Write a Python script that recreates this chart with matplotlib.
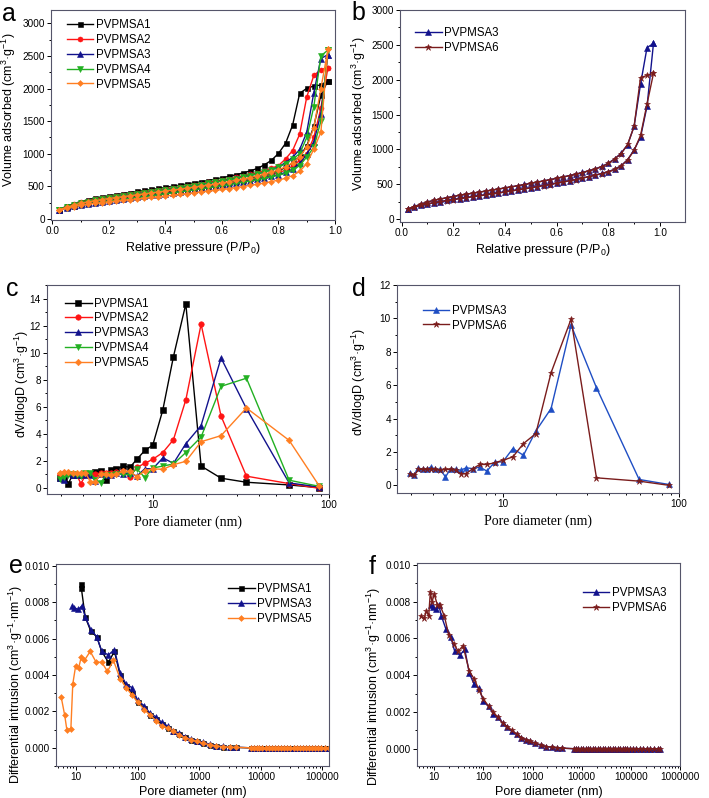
import matplotlib
matplotlib.use('Agg')
import matplotlib.pyplot as plt
from matplotlib.ticker import MultipleLocator, LogLocator, FixedLocator, FuncFormatter, NullFormatter

plt.rcParams['font.family'] = ['Liberation Sans', 'DejaVu Sans']
plt.rcParams['mathtext.fontset'] = 'custom'
plt.rcParams['mathtext.rm'] = 'Liberation Sans'
plt.rcParams['mathtext.it'] = 'Liberation Sans:italic'
plt.rcParams['mathtext.bf'] = 'Liberation Sans:bold'

# ---------------- data: panels a, b (isotherms) ----------------
P = [0.025, 0.05, 0.075, 0.1, 0.125, 0.15, 0.175, 0.2, 0.225, 0.25,
     0.275, 0.3, 0.325, 0.35, 0.375, 0.4, 0.425, 0.45, 0.475, 0.5,
     0.525, 0.55, 0.575, 0.6, 0.625, 0.65, 0.675, 0.7, 0.725, 0.75,
     0.775, 0.8, 0.825, 0.85, 0.875, 0.9, 0.925, 0.95, 0.975]

A1_ads = [145, 180, 207, 229, 247, 264, 280, 295, 310, 325, 340, 354, 368, 382, 397, 412, 427, 442, 458, 474,
          490, 507, 524, 542, 561, 581, 602, 624, 648, 674, 703, 738, 790, 860, 960, 1120, 1420, 1900, 2120]
A1_des = [150, 195, 235, 268, 294, 316, 336, 355, 373, 390, 406, 422, 438, 454, 470, 486, 502, 519, 536, 553,
          571, 590, 610, 632, 655, 680, 707, 737, 775, 830, 900, 1005, 1160, 1440, 1926, 2003, 2039, 2054, 2120]
A2_ads = [142, 176, 202, 223, 241, 257, 272, 287, 301, 315, 329, 343, 357, 371, 385, 399, 413, 428, 443, 458,
          474, 490, 507, 524, 542, 561, 581, 602, 625, 650, 678, 710, 750, 810, 900, 1000, 1250, 1700, 2320]
A2_des = [145, 188, 226, 258, 283, 304, 323, 341, 358, 374, 389, 404, 419, 434, 449, 464, 479, 495, 511, 527,
          544, 561, 579, 598, 618, 639, 662, 686, 712, 742, 777, 820, 920, 1050, 1300, 1870, 2200, 2290, 2320]
A3_ads = [140, 172, 197, 218, 235, 251, 266, 280, 294, 308, 321, 335, 348, 361, 375, 390, 405, 420, 435, 450,
          466, 482, 498, 515, 533, 551, 570, 590, 610, 632, 655, 680, 715, 766, 853, 990, 1177, 1617, 2520]
A3_des = [140, 180, 215, 245, 268, 288, 306, 325, 341, 356, 371, 386, 401, 416, 431, 447, 463, 479, 496, 513,
          530, 548, 566, 585, 604, 624, 645, 668, 693, 720, 755, 800, 865, 945, 1066, 1330, 1937, 2460, 2520]
A4_ads = [140, 171, 195, 216, 233, 249, 263, 277, 291, 305, 318, 331, 344, 357, 371, 385, 400, 415, 430, 445,
          461, 477, 493, 510, 527, 545, 564, 583, 603, 624, 646, 670, 700, 745, 820, 950, 1100, 1500, 2590]
A4_des = [141, 179, 213, 243, 266, 286, 304, 322, 338, 353, 368, 383, 398, 413, 428, 444, 460, 476, 493, 510,
          527, 545, 563, 582, 601, 621, 642, 665, 690, 717, 750, 790, 850, 920, 1000, 1250, 1720, 2500, 2590]
A5_ads = [138, 168, 191, 210, 226, 240, 253, 265, 277, 288, 299, 310, 321, 332, 343, 354, 365, 377, 389, 401,
          413, 426, 439, 453, 467, 482, 498, 515, 533, 552, 573, 597, 625, 665, 730, 850, 1070, 1330, 2600]
A5_des = [140, 178, 212, 240, 262, 281, 298, 314, 329, 343, 357, 371, 385, 399, 413, 427, 441, 456, 471, 486,
          502, 518, 535, 553, 572, 592, 613, 636, 661, 688, 718, 752, 800, 860, 950, 1100, 1400, 2000, 2600]
A6_ads = [138, 170, 195, 216, 233, 249, 264, 278, 292, 306, 319, 332, 345, 358, 372, 387, 402, 417, 432, 447,
          463, 479, 495, 512, 530, 548, 567, 587, 607, 629, 652, 677, 712, 762, 850, 985, 1200, 1650, 2090]
A6_des = [138, 178, 213, 243, 266, 286, 304, 323, 339, 354, 369, 384, 399, 414, 429, 445, 461, 477, 494, 511,
          528, 546, 564, 583, 602, 622, 643, 666, 691, 718, 752, 797, 862, 940, 1070, 1330, 2030, 2060, 2090]

# ---------------- data: panels c, d (BJH pore size) ----------------
D_bjh = [2.97, 3.15, 3.32, 3.51, 3.71, 3.91, 4.14, 4.42, 4.73, 5.06, 5.40, 5.76, 6.20,
         6.76, 7.41, 8.12, 9.01, 10.0, 11.4, 13.1, 15.4, 18.8, 24.4, 34.0, 59.4, 87.8]
B1 = [0.75, 0.65, 0.3, 0.95, 0.95, 0.95, 1.0, 1.0, 1.15, 1.2, 0.6, 1.3, 1.35, 1.6, 1.5, 2.1, 2.75,
      3.15, 5.75, 9.7, 13.6, 1.6, 0.7, 0.4, 0.2, 0.0]
B2 = [1.0, 1.05, 1.1, 1.0, 0.9, 0.3, 0.9, 1.0, 1.0, 1.05, 1.05, 1.1, 1.15, 1.2, 0.8, 1.5, 1.8,
      2.1, 2.6, 3.55, 6.5, 12.1, 5.3, 0.85, 0.3, -0.05]
B3 = [0.75, 0.6, 1.05, 0.95, 0.95, 1.1, 0.95, 0.95, 0.5, 1.0, 0.95, 0.9, 1.05, 1.0, 1.1, 0.85, 1.4,
      1.4, 2.2, 1.8, 3.25, 4.6, 9.6, 5.85, 0.35, 0.05]
B4 = [0.65, 0.8, 0.9, 1.0, 0.9, 0.85, 1.05, 1.1, 0.6, 0.35, 0.9, 0.9, 1.0, 1.0, 0.95, 1.4, 0.75,
      1.45, 1.6, 1.75, 2.6, 3.75, 7.5, 8.1, 0.55, 0.1]
B5 = [1.05, 1.15, 1.15, 1.05, 1.05, 1.05, 1.1, 0.45, 0.45, 1.0, 1.0, 0.95, 1.0, 1.2, 1.2, 0.8, 1.25,
      1.4, 1.35, 1.7, 1.95, 3.4, 3.85, 5.9, 3.5, 0.15]
B6 = [0.65, 0.6, 0.95, 0.95, 0.95, 1.0, 0.95, 0.9, 0.95, 0.95, 0.9, 0.7, 0.7, 1.0, 1.25, 1.25, 1.35,
      1.5, 1.7, 2.5, 3.1, 6.75, 9.95, 0.45, 0.25, 0.0]

# ---------------- data: panels e, f (mercury intrusion) ----------------
M1_head_D = [12.0, 12.1, 14.0, 17.3, 21.6, 26.0, 33.4, 41.8]
M1_head_v = [0.0090, 0.0088, 0.0072, 0.0064, 0.0061, 0.0053, 0.0047, 0.0053]
M3_head_D = [8.7, 9.3, 10.8, 12.4, 14.0, 17.3, 21.6, 26.0, 33.4, 41.8]
M3_head_v = [0.0078, 0.0077, 0.0076, 0.0078, 0.0072, 0.0065, 0.0061, 0.0053, 0.0051, 0.0054]
M5_head_D = [5.7, 6.5, 7.05, 8.2, 8.8, 9.8, 11.0, 12.1, 13.6, 16.9, 21.1, 26.0, 32.2, 40.3]
M5_head_v = [0.0028, 0.0018, 0.0010, 0.00105, 0.0035, 0.0045, 0.0044, 0.0050, 0.0048, 0.0053,
             0.0047, 0.0047, 0.0042, 0.0048]
M6_head_D = [5.3, 6.3, 6.9, 7.7, 8.3, 9.0, 10.0, 11.6, 13.1, 16.1, 19.6, 25.0, 30.6, 38.5]
M6_head_v = [0.0072, 0.0071, 0.0075, 0.0072, 0.0085, 0.0080, 0.0084, 0.0078, 0.0078, 0.0072,
             0.0062, 0.0057, 0.0053, 0.0056]

M_mid_D = [51.7, 64.8, 81, 100, 128, 158, 198, 245, 305, 380, 474, 590, 730, 905, 1130, 1490,
           1900, 2450, 3200, 4000]
M1_mid_v = [0.0040, 0.0034, 0.0030, 0.0025, 0.0022, 0.0018, 0.0016, 0.0013, 0.0011, 0.0009, 0.00075,
            0.00058, 0.00045, 0.00037, 0.00028, 0.00018, 0.00011, 0.00007, 0.00004, 0.00002]
M3_mid_v = [0.0041, 0.0035, 0.0033, 0.0026, 0.0023, 0.0019, 0.0017, 0.0014, 0.0012, 0.00095, 0.0008,
            0.0006, 0.0005, 0.0004, 0.0003, 0.0002, 0.00012, 0.00008, 0.00005, 0.00003]
M5_mid_v = [0.0038, 0.0033, 0.0029, 0.0025, 0.0021, 0.0018, 0.0015, 0.0012, 0.0011, 0.0009, 0.0007,
            0.00055, 0.00045, 0.00035, 0.00025, 0.00017, 0.0001, 0.00006, 0.00004, 0.00002]
M6_mid_v = [0.0042, 0.0038, 0.0032, 0.0027, 0.0023, 0.0020, 0.0017, 0.0014, 0.0012, 0.0010, 0.0008,
            0.0006, 0.0005, 0.0004, 0.0003, 0.0002, 0.00012, 0.00008, 0.00005, 0.00003]

M_tail_D = [7000, 7800, 8600, 9500, 10500, 12000, 13500, 15000, 17000, 19000, 21500, 24000, 27000,
            30000, 34000, 38000, 43000, 48000, 54000, 60000, 68000, 76000, 85000, 95000, 110000,
            130000, 150000, 180000, 210000, 250000, 300000, 350000, 400000]
M_tail_v = [0.0, 0.0, 0.0, 0.0, 0.0, 0.0, 0.0, 0.0, 0.0, 0.0, 0.0, 0.0, 0.0, 0.0, 0.0, 0.0, 0.0,
            0.0, 0.0, 0.0, 0.0, 0.0, 0.0, 0.0, 0.0, 0.0, 0.0, 0.0, 0.0, 0.0, 0.0, 0.0, 0.0]

NAMES = ['PVPMSA1', 'PVPMSA2', 'PVPMSA3', 'PVPMSA4', 'PVPMSA5', 'PVPMSA6']

# ---------------- styles ----------------
COL = {'PVPMSA1': '#000000', 'PVPMSA2': '#ff1414', 'PVPMSA3': '#12128c',
       'PVPMSA4': '#22b022', 'PVPMSA5': '#ff7f22', 'PVPMSA6': '#7a1c1c'}
MRK = {'PVPMSA1': 's', 'PVPMSA2': 'o', 'PVPMSA3': '^', 'PVPMSA4': 'v',
       'PVPMSA5': 'D', 'PVPMSA6': '*'}
MSZ = {'PVPMSA1': 3.6, 'PVPMSA2': 3.6, 'PVPMSA3': 3.8, 'PVPMSA4': 3.8,
       'PVPMSA5': 3.0, 'PVPMSA6': 4.6}
FRAME = '#55556a'
TICK_FS = 7.2
LAB_FS = 9
LEG_FS = 8.3

W, H = 709, 798
fig = plt.figure(figsize=(W / 100, H / 100), dpi=100)


def make_ax(l, t, r, b):
    return fig.add_axes([l / W, 1 - b / H, (r - l) / W, (b - t) / H])


def style(ax):
    for s in ax.spines.values():
        s.set_color(FRAME)
        s.set_linewidth(0.8)
    ax.tick_params(which='both', direction='out', top=False, right=False,
                   labelsize=TICK_FS, colors='black', width=0.7, pad=1.6)
    ax.tick_params(which='major', length=2.8)
    ax.tick_params(which='minor', length=1.6)


def line(ax, x, y, name, color=None, ms_scale=1.0):
    c = color or COL[name]
    ax.plot(x, y, color=c, lw=1.0, marker=MRK[name], ms=MSZ[name] * ms_scale,
            mfc=c, mec=c, mew=0.4, label=name)


def legend(ax, x, y):
    ax.legend(loc='upper left', bbox_to_anchor=(x, y), frameon=False, fontsize=LEG_FS,
              handlelength=2.3, handletextpad=0.2, borderpad=0, borderaxespad=0,
              labelspacing=0.24)


def ylab(ax, text, x, y):
    ax.set_ylabel(text, fontsize=LAB_FS)
    ax.yaxis.set_label_coords(x, y)


# ---------------- panel a ----------------
ax = make_ax(51, 10, 335, 220)
style(ax)
iso_a = [('PVPMSA1', A1_ads, A1_des), ('PVPMSA2', A2_ads, A2_des), ('PVPMSA3', A3_ads, A3_des),
         ('PVPMSA4', A4_ads, A4_des), ('PVPMSA5', A5_ads, A5_des)]
for name, ads, des in iso_a:
    line(ax, P + P[::-1], ads + des[::-1], name)
ax.set_xlim(-0.005, 1.0)
ax.set_ylim(-15, 3204)
ax.xaxis.set_major_locator(MultipleLocator(0.2))
ax.xaxis.set_minor_locator(MultipleLocator(0.1))
ax.yaxis.set_major_locator(MultipleLocator(500))
ax.yaxis.set_minor_locator(MultipleLocator(250))
ax.xaxis.set_major_formatter(FuncFormatter(lambda v, _: f'{v:.1f}'))
ax.set_xlabel('Relative pressure (P/P$_0$)', fontsize=LAB_FS, labelpad=3)
ylab(ax, 'Volume adsorbed (cm$^3$·g$^{-1}$)', -0.115, 0.524)
legend(ax, 0.056, 0.955)
fig.text(2 / W, 1 - 21 / H, 'a', fontsize=18)

# ---------------- panel b ----------------
ax = make_ax(400, 10, 685, 222)
style(ax)
for name, ads, des in [('PVPMSA3', A3_ads, A3_des), ('PVPMSA6', A6_ads, A6_des)]:
    line(ax, P + P[::-1], ads + des[::-1], name)
ax.set_xlim(-0.006, 1.097)
ax.set_ylim(-43, 3000)
ax.xaxis.set_major_locator(MultipleLocator(0.2))
ax.xaxis.set_minor_locator(MultipleLocator(0.1))
ax.yaxis.set_major_locator(MultipleLocator(500))
ax.yaxis.set_minor_locator(MultipleLocator(250))
ax.xaxis.set_major_formatter(FuncFormatter(lambda v, _: f'{v:.1f}'))
ax.set_xlabel('Relative pressure (P/P$_0$)', fontsize=LAB_FS, labelpad=3)
ylab(ax, 'Volume adsorbed (cm$^3$·g$^{-1}$)', -0.112, 0.51)
legend(ax, 0.053, 0.92)
fig.text(351 / W, 1 - 20 / H, 'b', fontsize=18)


def log_x(ax, ticks):
    ax.set_xscale('log')
    ax.xaxis.set_major_locator(FixedLocator(ticks))
    ax.xaxis.set_minor_locator(LogLocator(base=10, subs=(2, 3, 4, 5, 6, 7, 8, 9), numticks=20))
    ax.xaxis.set_major_formatter(FuncFormatter(lambda v, _: f'{int(round(v))}'))
    ax.xaxis.set_minor_formatter(NullFormatter())


# ---------------- panel c ----------------
ax = make_ax(47, 285, 329, 494)
style(ax)
for name, vals in zip(NAMES[:5], [B1, B2, B3, B4, B5]):
    line(ax, D_bjh, vals, name, ms_scale=1.1)
log_x(ax, [10, 100])
ax.set_xlim(2.51, 100)
ax.set_ylim(-0.47, 15.0)
ax.yaxis.set_major_locator(MultipleLocator(2))
ax.yaxis.set_minor_locator(MultipleLocator(1))
ax.set_xlabel('Pore diameter (nm)', fontsize=10, family=['Liberation Serif'], labelpad=4)
ylab(ax, 'dV/dlogD (cm$^3$·g$^{-1}$)', -0.057, 0.526)
legend(ax, 0.064, 0.94)
fig.text(6 / W, 1 - 296 / H, 'c', fontsize=18)

# ---------------- panel d ----------------
ax = make_ax(397, 285, 679, 493)
style(ax)
line(ax, D_bjh, B3, 'PVPMSA3', color='#1f4ec4', ms_scale=1.1)
line(ax, D_bjh, B6, 'PVPMSA6', ms_scale=1.0)
log_x(ax, [10, 100])
ax.set_xlim(2.51, 100)
ax.set_ylim(-0.46, 12.0)
ax.yaxis.set_major_locator(MultipleLocator(2))
ax.yaxis.set_minor_locator(MultipleLocator(1))
ax.set_xlabel('Pore diameter (nm)', fontsize=10, family=['Liberation Serif'], labelpad=4)
ylab(ax, 'dV/dlogD (cm$^3$·g$^{-1}$)', -0.103, 0.534)
legend(ax, 0.092, 0.905)
fig.text(352 / W, 1 - 296 / H, 'd', fontsize=18)

# ---------------- panel e ----------------
ax = make_ax(56, 564, 329, 766)
style(ax)
for name, hD, hv, mv in [('PVPMSA1', M1_head_D, M1_head_v, M1_mid_v),
                         ('PVPMSA3', M3_head_D, M3_head_v, M3_mid_v),
                         ('PVPMSA5', M5_head_D, M5_head_v, M5_mid_v)]:
    line(ax, hD + M_mid_D + M_tail_D, hv + mv + M_tail_v, name)
log_x(ax, [10, 100, 1000, 10000, 100000])
ax.set_xlim(4.7, 1.28e5)
ax.set_ylim(-0.001, 0.0101)
ax.yaxis.set_major_locator(MultipleLocator(0.002))
ax.yaxis.set_minor_locator(MultipleLocator(0.001))
ax.yaxis.set_major_formatter(FuncFormatter(lambda v, _: f'{v:.3f}'))
ax.set_xlabel('Pore diameter (nm)', fontsize=LAB_FS, labelpad=3)
ylab(ax, 'Differential intrusion (cm$^3$·g$^{-1}$·nm$^{-1}$)', -0.114, 0.406)
legend(ax, 0.63, 0.905)
fig.text(9 / W, 1 - 573 / H, 'e', fontsize=18)

# ---------------- panel f ----------------
ax = make_ax(417, 563, 680, 766)
style(ax)
for name, hD, hv, mv in [('PVPMSA3', M3_head_D, M3_head_v, M3_mid_v),
                         ('PVPMSA6', M6_head_D, M6_head_v, M6_mid_v)]:
    line(ax, hD + M_mid_D + M_tail_D, hv + mv + M_tail_v, name)
log_x(ax, [10, 100, 1000, 10000, 100000, 1000000])
ax.set_xlim(4.45, 1.0e6)
ax.set_ylim(-0.00094, 0.0101)
ax.yaxis.set_major_locator(MultipleLocator(0.002))
ax.yaxis.set_minor_locator(MultipleLocator(0.001))
ax.yaxis.set_major_formatter(FuncFormatter(lambda v, _: f'{v:.3f}'))
ax.set_xlabel('Pore diameter (nm)', fontsize=LAB_FS, labelpad=3)
ylab(ax, 'Differential intrusion (cm$^3$·g$^{-1}$·nm$^{-1}$)', -0.129, 0.394)
legend(ax, 0.631, 0.882)
fig.text(369 / W, 1 - 574 / H, 'f', fontsize=18)

fig.savefig('out.png', dpi=100)
